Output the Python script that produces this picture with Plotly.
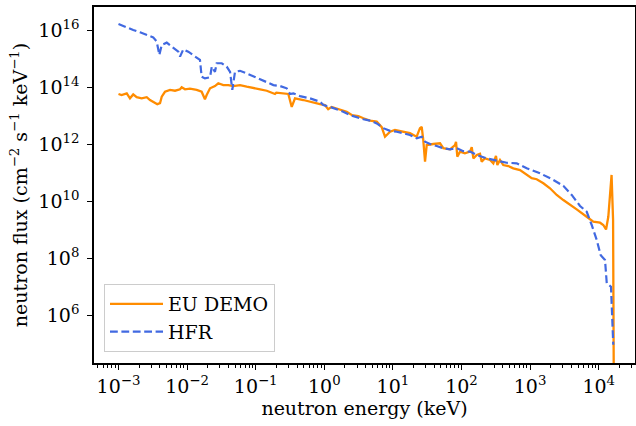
import plotly.graph_objects as go

# EU DEMO first-wall neutron spectrum (energy in keV, flux in cm^-2 s^-1 keV^-1)
demo_energy = [
    1.0e-3, 1.11e-3, 1.32e-3, 1.47e-3, 1.64e-3, 1.84e-3, 2.18e-3, 2.58e-3, 2.88e-3, 3.21e-3,
    3.68e-3, 4.03e-3, 4.27e-3, 4.76e-3, 5.64e-3, 6.67e-3, 7.89e-3, 8.34e-3, 9.33e-3, 1.10e-2,
    1.38e-2, 1.63e-2, 1.82e-2, 1.93e-2, 2.16e-2, 2.55e-2, 2.85e-2, 3.37e-2, 3.99e-2, 4.72e-2,
    5.90e-2, 7.40e-2, 9.23e-2, 0.116, 0.145, 0.181, 0.191, 0.200, 0.252, 0.299,
    0.335, 0.374, 0.494, 0.692, 0.865, 1.02, 1.14, 1.28, 1.69, 2.12,
    2.51, 3.13, 3.71, 4.63, 5.81, 6.87, 7.67, 9.08, 10.7, 14.2,
    17.7, 22.2, 24.8, 26.3, 27.7, 29.4, 31.1, 38.8, 48.6, 54.3,
    68.1, 80.4, 83.2, 86.9, 95.1, 112, 133, 141, 149, 167,
    186, 197, 220, 261, 291, 318, 333, 364, 406, 481,
    569, 713, 843, 1055, 1247, 1560, 1950, 2443, 3050, 3606,
    4775, 6683, 8340, 1.045e4, 1.167e4, 1.279e4, 1.38e4, 1.54e4, 1.62e4, 1.67e4,
]
demo_flux = [
    5.7e13, 5.2e13, 6.0e13, 4.0e13, 5.5e13, 4.4e13, 4.0e13, 4.4e13, 3.5e13, 3.05e13,
    2.5e13, 2.7e13, 4.6e13, 6.8e13, 7.9e13, 7.4e13, 8.3e13, 9.8e13, 8.3e13, 8.7e13,
    7.9e13, 6.8e13, 3.7e13, 5.2e13, 9.0e13, 1.08e14, 1.35e14, 1.17e14, 1.17e14, 1.08e14,
    1.17e14, 1.03e14, 9.0e13, 8.3e13, 7.4e13, 6.3e13, 5.7e13, 6.3e13, 6.0e13, 5.7e13,
    2.0e13, 4.0e13, 3.5e13, 2.8e13, 2.5e13, 2.33e13, 1.65e13, 2.0e13, 1.65e13, 1.36e13,
    1.04e13, 9.6e12, 8.0e12, 6.6e12, 6.1e12, 3.9e12, 1.8e12, 2.7e12, 3.1e12, 2.7e12,
    2.4e12, 1.8e12, 3.6e12, 4.0e12, 1.4e12, 2.4e11, 9.2e11, 1.0e12, 1.06e12, 7.1e11,
    6.5e11, 9.2e11, 1.2e12, 3.6e11, 5.4e11, 4.7e11, 5.4e11, 7.7e11, 3.15e11, 4.1e11,
    4.5e11, 2.4e11, 3.15e11, 2.75e11, 2.1e11, 3.8e11, 1.83e11, 2.75e11, 1.83e11, 1.69e11,
    1.4e11, 1.22e11, 8.9e10, 6.3e10, 5.8e10, 4.2e10, 2.8e10, 1.63e10, 1.08e10, 8.3e9,
    5.1e9, 2.8e9, 1.88e9, 1.73e9, 1.44e9, 1.0e9, 2.8e9, 8.2e10, 2.2e9, 1.0e2,
]

# HFR irradiation position spectrum
hfr_energy = [
    1.0e-3, 1.17e-3, 1.47e-3, 1.64e-3, 2.06e-3, 2.58e-3, 3.21e-3, 3.61e-3, 3.94e-3, 4.27e-3,
    5.05e-3, 5.97e-3, 7.45e-3, 7.89e-3, 8.81e-3, 1.04e-2, 1.30e-2, 1.54e-2, 1.63e-2, 1.82e-2,
    2.16e-2, 2.29e-2, 2.55e-2, 2.70e-2, 3.20e-2, 3.78e-2, 4.23e-2, 4.56e-2, 4.99e-2, 5.90e-2,
    7.40e-2, 9.23e-2, 0.116, 0.145, 0.181, 0.226, 0.283, 0.316, 0.353, 0.443,
    0.619, 0.865, 0.968, 1.21, 1.52, 1.89, 2.37, 2.96, 3.71, 4.63,
    5.81, 7.24, 9.08, 11.4, 14.2, 17.7, 22.2, 26.3, 29.4, 34.8,
    43.5, 54.3, 68.1, 85.1, 106, 133, 167, 233, 326, 456,
    638, 893, 1393, 2178, 3050, 4045, 5346, 6683, 7907, 9355,
    1.07e4, 1.236e4, 1.31e4, 1.51e4, 1.63e4,
]
hfr_flux = [
    1.62e16, 1.38e16, 1.15e16, 1.0e16, 8.3e15, 6.7e15, 5.5e15, 3.9e15, 1.33e15, 3.0e15,
    3.6e15, 2.6e15, 1.73e15, 1.16e15, 2.1e15, 1.73e15, 1.16e15, 8.9e14, 2.3e14, 2.0e14,
    2.2e14, 5.2e14, 3.4e14, 6.8e14, 6.8e14, 5.2e14, 3.4e14, 7.9e13, 3.4e14, 3.7e14,
    3.0e14, 2.4e14, 1.86e14, 1.53e14, 1.17e14, 1.08e14, 9.0e13, 5.7e13, 6.0e13, 4.8e13,
    4.0e13, 3.05e13, 2.33e13, 2.0e13, 1.65e13, 1.36e13, 1.04e13, 8.7e12, 7.4e12, 6.6e12,
    5.3e12, 3.6e12, 2.9e12, 2.7e12, 2.4e12, 2.07e12, 1.58e12, 1.8e12, 1.2e12, 1.0e12,
    8.5e11, 7.1e11, 6.5e11, 7.1e11, 5.6e11, 5.4e11, 4.1e11, 3.15e11, 2.6e11, 2.2e11,
    2.1e11, 1.4e11, 9.4e10, 5.5e10, 3.4e10, 1.63e10, 6.7e9, 4.2e9, 1.44e9, 4.3e8,
    1.25e8, 8.5e7, 1.3e7, 9.8e6, 9.0e4,
]

x_tick_exps = [-3, -2, -1, 0, 1, 2, 3, 4]
y_tick_exps = [6, 8, 10, 12, 14, 16]

FONT = "DejaVu Serif"


def sup_label(e):
    s = str(e).replace("-", "\u2212")
    return f"10<sup>{s}</sup>"


fig = go.Figure()
fig.add_trace(go.Scatter(
    x=demo_energy, y=demo_flux, mode="lines", name="EU DEMO",
    line=dict(color="#FF8C00", width=2.3),
))
fig.add_trace(go.Scatter(
    x=hfr_energy, y=hfr_flux, mode="lines", name="HFR",
    line=dict(color="#4169E1", width=2.2, dash="7.8px,3.6px"),
))

minor_x = [m * 10.0 ** k for k in range(-4, 5) for m in range(2, 10)]

axis_common = dict(
    type="log",
    showgrid=False,
    zeroline=False,
    showline=True,
    linecolor="black",
    linewidth=1.5,
    mirror=True,
    ticks="outside",
    ticklen=5,
    tickwidth=1.2,
    tickcolor="black",
    tickmode="array",
    tickfont=dict(family=FONT, size=19, color="black"),
)

fig.update_xaxes(
    **axis_common,
    range=[-3.357, 4.529],
    tickvals=[10.0 ** e for e in x_tick_exps],
    ticktext=[sup_label(e) for e in x_tick_exps],
    minor=dict(ticks="outside", ticklen=3, tickwidth=0.9, tickcolor="black",
               tickmode="array", tickvals=minor_x, showgrid=False),
    title=dict(text="neutron energy (keV)", font=dict(family=FONT, size=19, color="black"),
               standoff=6),
)
fig.update_yaxes(
    **axis_common,
    range=[4.316, 16.807],
    tickvals=[10.0 ** e for e in y_tick_exps],
    ticktext=[sup_label(e) for e in y_tick_exps],
    ticklabelstandoff=4,
    title=dict(text="neutron flux (cm<sup>\u22122</sup> s<sup>\u22121</sup> keV<sup>\u22121</sup>)",
               font=dict(family=FONT, size=19, color="black"), standoff=6),
)

fig.update_layout(
    width=636,
    height=426,
    margin=dict(l=94, r=1, t=7, b=63, autoexpand=False),
    plot_bgcolor="white",
    paper_bgcolor="white",
    font=dict(family=FONT, size=19, color="black"),
    showlegend=True,
    legend=dict(
        x=10 / 541, y=11 / 356, xanchor="left", yanchor="bottom",
        bgcolor="rgba(255,255,255,0.8)", bordercolor="#cccccc", borderwidth=1,
        font=dict(family=FONT, size=19, color="black"),
        itemwidth=53,
    ),
)

fig.write_html("out.html")
